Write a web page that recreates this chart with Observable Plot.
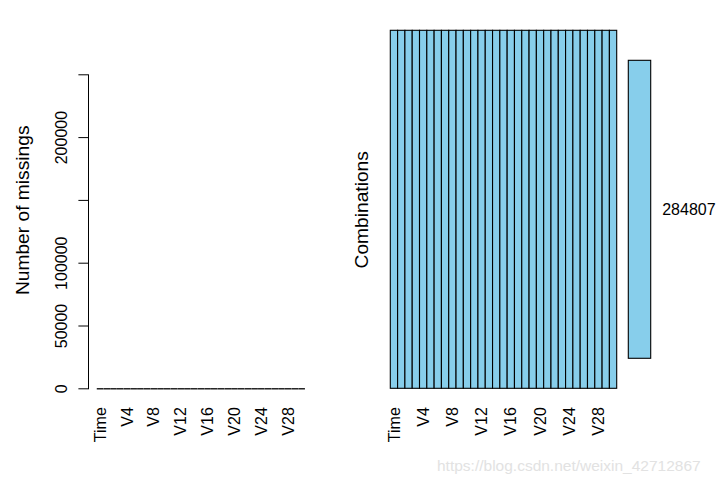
<!DOCTYPE html>
<html>
<head>
<meta charset="utf-8">
<script src="https://cdn.jsdelivr.net/npm/d3@7"></script>
<script src="https://cdn.jsdelivr.net/npm/@observablehq/plot@0.6"></script>
<style>
  html, body { margin: 0; padding: 0; background: #fff; }
  #wrap { position: relative; width: 717px; height: 486px; overflow: hidden; font-family: "Liberation Sans", Arial, sans-serif; }
  #wrap svg { position: absolute; left: 0; top: 0; }
  #wm { position: absolute; left: 437px; top: 457px; font-size: 15.5px; color: #e2e2e2; white-space: nowrap; }
</style>
</head>
<body>
<div id="wrap"><div id="wm">https://blog.csdn.net/weixin_42712867</div></div>
<script>
// ---- data ----
const variables = ["Time", ...d3.range(1, 29).map(i => "V" + i), "Amount", "Class"];
const missingCounts = variables.map(() => 0);
const combinationCounts = [284807];
const combinationIds = ["1"];
const xTickLabelsShown = ["Time", "V4", "V8", "V12", "V16", "V20", "V24", "V28"];
const yTicks = [0, 50000, 100000, 150000, 200000, 250000];
const yTickLabels = ["0", "50000", "100000", "", "200000", ""];
const leftTitle = "Number of missings";
const rightTitle = "Combinations";

const W = 717, H = 486;
const font = "Liberation Sans, Arial, sans-serif";
const baseStyle = {background: "transparent", fontFamily: font, fontSize: "16px", color: "black", overflow: "visible"};

const missTable = variables.map((v, i) => ({v, i, n: missingCounts[i]}));
const labelRows = missTable.filter(d => xTickLabelsShown.includes(d.v));

// ---- left panel: barplot of missings ----
const left = Plot.plot({
  width: W, height: H,
  marginLeft: 88, marginRight: W - 305, marginTop: 74.3, marginBottom: H - 388.3,
  style: baseStyle,
  x: {domain: [0, variables.length], range: [96.7, 305], axis: null},
  y: {domain: [0, 250000], axis: null},
  marks: [
    Plot.frame({anchor: "left", stroke: "black"}),
    Plot.axisY({ticks: yTicks, tickSize: 9.6, tickFormat: () => "", stroke: "black", strokeOpacity: 1}),
    Plot.text(yTicks.map((t, i) => ({t, label: yTickLabels[i]})), {
      y: "t", text: "label", frameAnchor: "left", dx: -27, rotate: -90,
      textAnchor: "middle", lineAnchor: "middle", fontSize: 16, fill: "black"
    }),
    Plot.ruleY(missTable, {y: "n", x1: d => d.i + 0.01, x2: d => d.i + 0.99, stroke: "black", strokeWidth: 1.3}),
    Plot.text(labelRows, {
      x: d => d.i + 0.5, text: "v", frameAnchor: "bottom", dy: 18.4,
      rotate: -90, textAnchor: "end", lineAnchor: "middle", fontSize: 16, fill: "black"
    }),
    Plot.text([leftTitle], {
      text: d => d, frameAnchor: "left", dx: -66, dy: -21.5, rotate: -90,
      textAnchor: "middle", lineAnchor: "middle", fontSize: 19.2, fill: "black"
    })
  ]
});

// ---- right panel: combinations grid ----
const combTable = variables.map(v => ({v, combo: combinationIds[0]}));
const grid = Plot.plot({
  width: W, height: H,
  marginLeft: 390.3, marginRight: W - 616.7, marginTop: 30.3, marginBottom: H - 388.3,
  style: baseStyle,
  x: {type: "band", domain: variables, padding: 0, round: false, axis: null},
  y: {type: "band", domain: combinationIds, padding: 0, round: false, axis: null},
  marks: [
    Plot.cell(combTable, {x: "v", y: "combo", fill: "#87CEEB", stroke: "black", strokeWidth: 1.1, inset: 0}),
    Plot.text(xTickLabelsShown, {
      x: d => d, text: d => d, frameAnchor: "bottom", dy: 18.4,
      rotate: -90, textAnchor: "end", lineAnchor: "middle", fontSize: 16, fill: "black"
    }),
    Plot.text([rightTitle], {
      text: d => d, frameAnchor: "left", dx: -28.6, rotate: -90,
      textAnchor: "middle", lineAnchor: "middle", fontSize: 19.2, fill: "black"
    })
  ]
});

// ---- side bar: combination frequency ----
const sideTable = combinationIds.map((c, i) => ({c, n: combinationCounts[i]}));
const side = Plot.plot({
  width: W, height: H,
  marginLeft: 628.3, marginRight: W - 650.7, marginTop: 30.3, marginBottom: H - 388.3,
  style: baseStyle,
  x: {domain: [0, d3.max(combinationCounts)], axis: null},
  y: {type: "band", domain: combinationIds, padding: 0.0915, round: false, axis: null},
  marks: [
    Plot.barX(sideTable, {x: "n", y: "c", fill: "#87CEEB", stroke: "black", strokeWidth: 1.1, inset: 0}),
    Plot.text(sideTable, {
      x: "n", y: "c", text: d => String(d.n), dx: 11, textAnchor: "start",
      fontSize: 16, fill: "black"
    })
  ]
});

const wrap = document.getElementById("wrap");
wrap.appendChild(left);
wrap.appendChild(grid);
wrap.appendChild(side);
</script>
</body>
</html>
